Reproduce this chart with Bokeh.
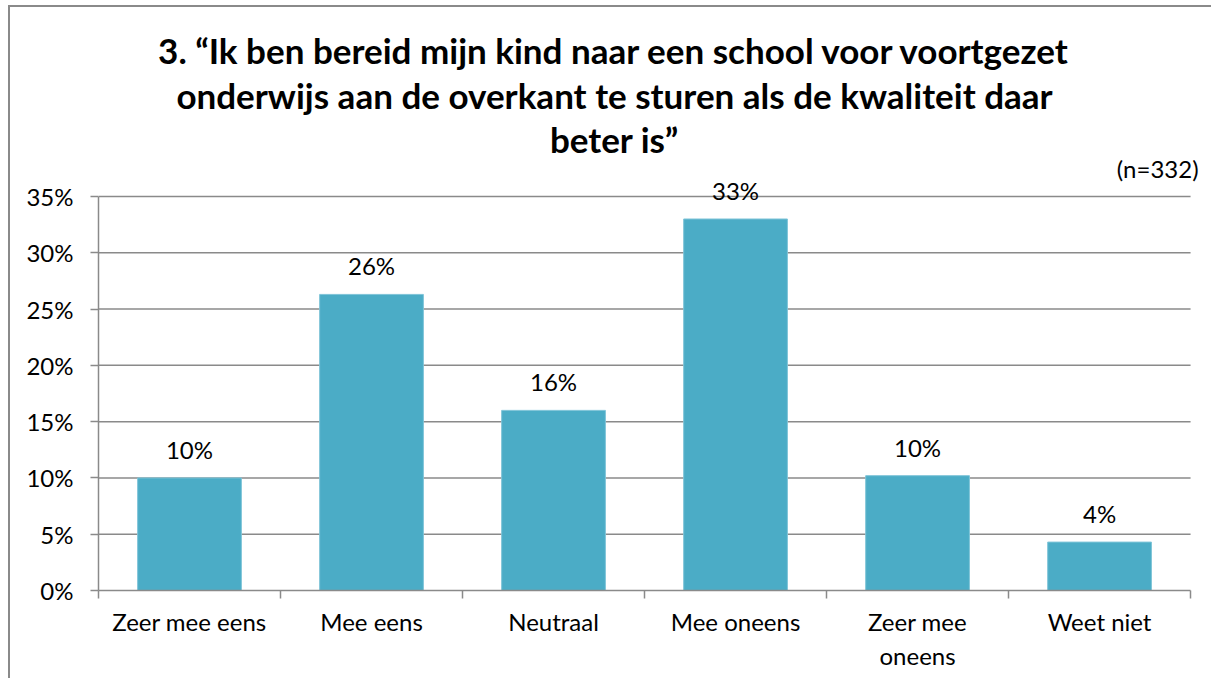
from bokeh.plotting import figure
from bokeh.models import ColumnDataSource, FixedTicker, Label, LabelSet, Range1d
from bokeh.core.properties import value
from bokeh.embed import file_html
from bokeh.resources import INLINE

categories = ["Zeer mee eens", "Mee eens", "Neutraal", "Mee oneens", "Zeer mee oneens", "Weet niet"]
axis_labels = ["Zeer mee eens", "Mee eens", "Neutraal", "Mee oneens", "Zeer mee\noneens", "Weet niet"]
values = [10.0, 26.3, 16.0, 33.0, 10.2, 4.3]
value_labels = ["10%", "26%", "16%", "33%", "10%", "4%"]
y_ticks = [0, 5, 10, 15, 20, 25, 30, 35]
y_tick_labels = ["0%", "5%", "10%", "15%", "20%", "25%", "30%", "35%"]
title_lines = [
    "3. \u201cIk ben bereid mijn kind naar een school voor voortgezet",
    "onderwijs aan de overkant te sturen als de kwaliteit daar",
    "beter is\u201d",
]
note = "(n=332)"

FONT = "Lato"
GRID = "#8a8a8a"
BAR = "#4BACC6"

n = len(categories)
ymax_axis = y_ticks[-1]
xs = [i + 0.5 for i in range(n)]
src = ColumnDataSource(dict(x=xs, top=values, lab=value_labels))

p = figure(width=1203, height=673, output_backend="svg", toolbar_location=None, title=None,
           x_range=Range1d(0, 6.126), y_range=Range1d(0, 51.52),
           min_border_left=88, min_border_right=0, min_border_top=3, min_border_bottom=90,
           styles={"border-left": "2px solid #8a8a8a", "border-top": "2px solid #8a8a8a",
                   "margin-left": "8px", "margin-top": "5px"})
p.outline_line_color = None
p.background_fill_color = "white"
p.border_fill_color = "white"

# horizontal gridlines limited to the category span
grid_y = [t for t in y_ticks if t > 0]
p.segment(x0=[0] * len(grid_y), x1=[n] * len(grid_y), y0=grid_y, y1=grid_y,
          line_color=GRID, line_width=1.5)

p.vbar(x="x", top="top", width=0.57, bottom=0, source=src, fill_color=BAR, line_color="#7FC4D8", line_width=1)

labels = LabelSet(x="x", y="top", text="lab", source=src, text_align="center", text_baseline="alphabetic",
                  y_offset=19, text_font=value(FONT), text_font_size=value("24px"), text_color=value("black"))
p.add_layout(labels)

# x axis
p.xaxis.bounds = (0, n)
p.xaxis.ticker = FixedTicker(ticks=xs, minor_ticks=list(range(n + 1)))
p.xaxis.major_label_overrides = {x: lab for x, lab in zip(xs, axis_labels)}
p.xaxis.major_tick_out = 0
p.xaxis.major_tick_in = 0
p.xaxis.minor_tick_out = 8
p.xaxis.minor_tick_in = 0
p.xaxis.minor_tick_line_color = GRID
p.xaxis.minor_tick_line_width = 1.5
p.xaxis.axis_line_color = GRID
p.xaxis.axis_line_width = 1.5
p.xaxis.major_label_text_font = FONT
p.xaxis.major_label_text_font_size = "24px"
p.xaxis.major_label_text_color = "black"
p.xaxis.major_label_standoff = 8

# y axis
p.yaxis.bounds = (0, ymax_axis)
p.yaxis.ticker = FixedTicker(ticks=y_ticks, minor_ticks=[])
p.yaxis.major_label_overrides = {t: l for t, l in zip(y_ticks, y_tick_labels)}
p.yaxis.major_tick_out = 8
p.yaxis.major_tick_in = 0
p.yaxis.major_tick_line_color = GRID
p.yaxis.major_tick_line_width = 1.5
p.yaxis.axis_line_color = GRID
p.yaxis.axis_line_width = 1.5
p.yaxis.major_label_text_font = FONT
p.yaxis.major_label_text_font_size = "24px"
p.yaxis.major_label_text_color = "black"
p.yaxis.major_label_standoff = 17

p.xgrid.grid_line_color = None
p.ygrid.grid_line_color = None

# title lines (data coordinates above the bars)
title_y = [48.05, 44.05, 40.15]
for txt, ty in zip(title_lines, title_y):
    p.add_layout(Label(x=2.835, y=ty, text=txt, text_align="center", text_baseline="alphabetic",
                       text_font=FONT, text_font_style="bold", text_font_size="35px", text_color="black"))

p.add_layout(Label(x=n, y=37.5, x_offset=8, text=note, text_align="right", text_baseline="alphabetic",
                   text_font=FONT, text_font_size="24px", text_color="black"))

open("out.html", "w").write(file_html(p, INLINE))
